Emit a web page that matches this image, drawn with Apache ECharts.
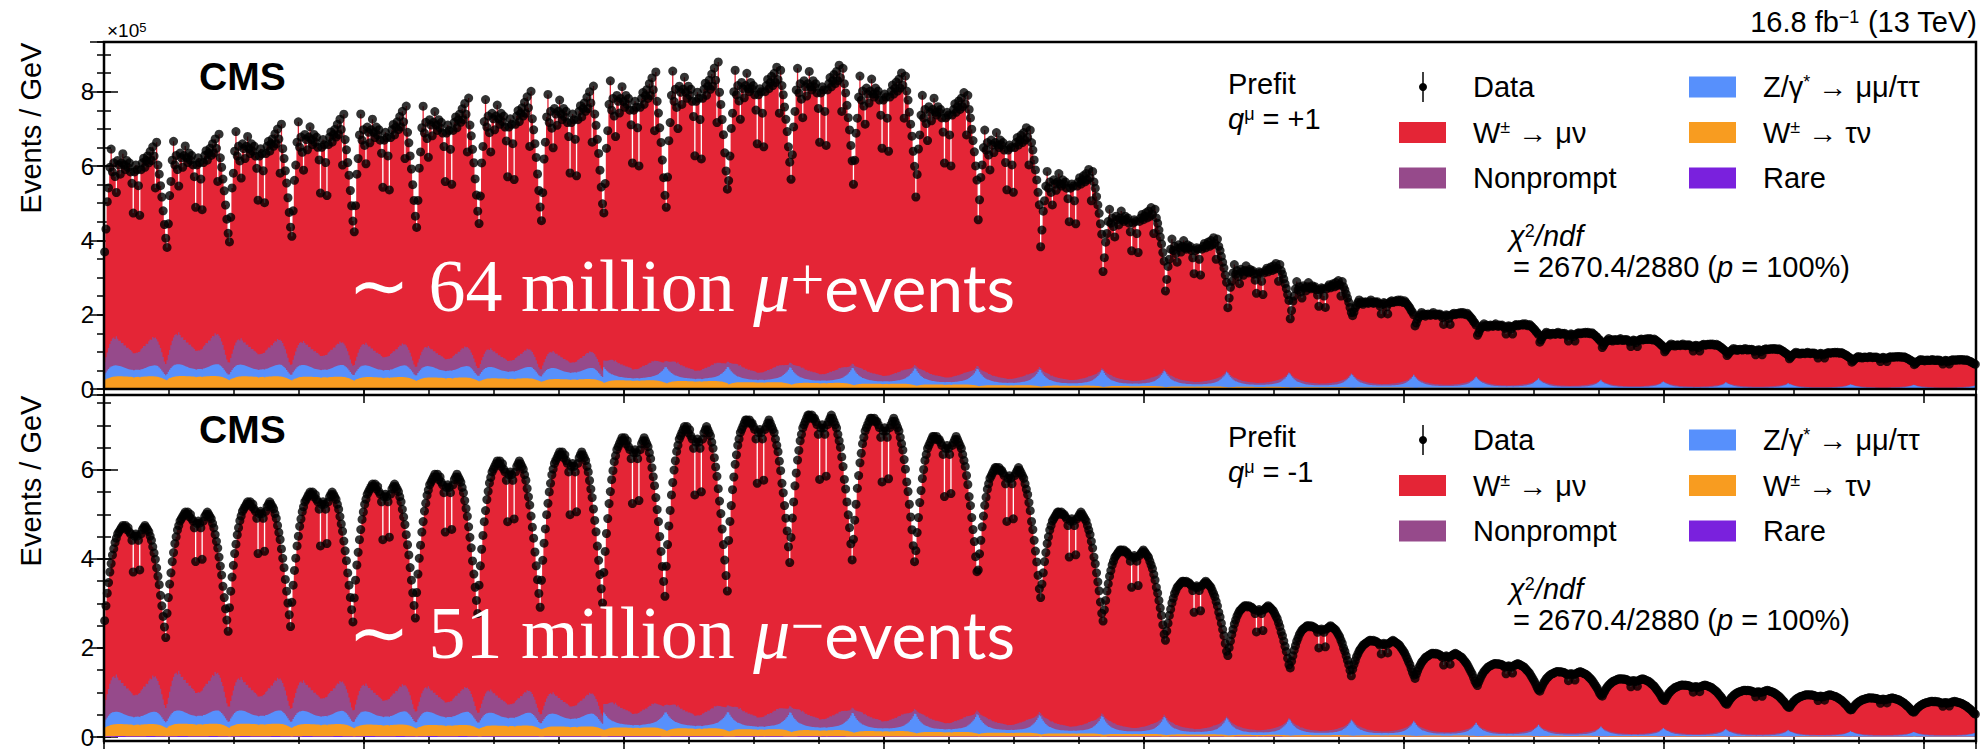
<!DOCTYPE html>
<html>
<head>
<meta charset="utf-8">
<script src="https://cdn.jsdelivr.net/npm/echarts@6/dist/echarts.min.js"></script>
<style>
  html, body { margin: 0; padding: 0; background: #fff; }
  #chart { width: 1985px; height: 749px; }
</style>
</head>
<body>
<div id="chart"></div>
<script>
// Unrolled (pT, eta) template: 30 muon-pT groups, each holding 48 eta bins.
const PT_GROUPS = 30;
const ETA_BINS = 48;
const N_BINS = PT_GROUPS * ETA_BINS;

// Total prediction level of each pT group (x1e5 events/GeV), q = +1 and q = -1
const totalPlus = [6.15, 6.35, 6.6, 6.85, 7.05, 7.25, 7.42, 7.55, 7.9, 8.15,
                   8.25, 8.3, 8.1, 7.6, 6.7, 5.63, 4.65, 3.88, 3.22, 2.78,
                   2.35, 2.02, 1.72, 1.5, 1.33, 1.19, 1.07, 0.97, 0.86, 0.78];
const totalMinus = [4.75, 5.05, 5.28, 5.5, 5.68, 5.9, 6.2, 6.4, 6.72, 6.97,
                    7.12, 7.23, 7.16, 6.75, 6.05, 5.05, 4.2, 3.5, 2.95, 2.5,
                    2.17, 1.88, 1.65, 1.47, 1.31, 1.17, 1.05, 0.95, 0.88, 0.8];

// Which eta profile each pT group uses (0 = low pT, 1 = mid pT, 2 = high pT)
const ptBand = [0,0,0,0,0,0,0,0,0,0, 1,1,1,1,1,1,1,1,1,1, 2,2,2,2,2,2,2,2,2,2];

// Eta profiles inside one pT group, q = +1
const etaPlusLow = [0.6,0.7,0.82,0.88,0.97,1.05,0.95,0.99,0.93,0.86,
  1.0,0.98,0.94,0.99,1.03,0.98,0.96,1.0,0.97,0.99,
  0.95,0.9,0.77,0.95,0.98,0.96,0.89,0.76,0.96,0.99,
  1.01,0.97,1.0,1.02,0.99,1.04,1.0,1.06,1.02,0.88,
  1.08,0.98,0.94,0.89,0.84,0.78,0.72,0.66];
const etaPlusMid = [0.68,0.76,0.85,0.9,0.97,1.04,0.96,0.99,0.94,0.88,
  1.0,0.98,0.95,0.99,1.03,0.98,0.97,1.0,0.98,0.99,
  0.96,0.91,0.8,0.96,0.98,0.97,0.9,0.79,0.97,0.99,
  1.01,0.98,1.0,1.02,0.99,1.03,1.0,1.05,1.01,0.9,
  1.04,0.99,0.96,0.92,0.88,0.84,0.79,0.74];
const etaPlusHigh = [0.84,0.88,0.93,0.96,0.99,1.02,0.98,1.0,0.97,0.99,
  1.0,0.99,0.98,1.0,1.02,0.99,0.98,1.0,0.99,1.0,
  0.98,0.95,0.86,0.97,0.99,0.98,0.94,0.86,0.98,1.0,
  1.01,0.99,1.0,1.01,1.0,1.02,1.0,1.02,1.0,0.99,
  1.01,0.99,0.97,0.95,0.93,0.9,0.88,0.85];

// Eta profiles inside one pT group, q = -1
const etaMinusLow = [0.55,0.62,0.68,0.73,0.78,0.82,0.86,0.89,0.92,0.94,0.96,0.97,
  0.98,0.99,1.0,0.99,1.0,0.98,0.99,0.97,0.96,0.93,
  0.78,0.95,0.96,0.95,0.93,0.79,
  0.96,0.98,0.99,1.0,0.99,0.98,0.97,0.95,
  0.93,0.9,0.87,0.84,0.8,0.76,0.72,0.67,0.62,0.57,0.52,0.47];
const etaMinusMid = [0.62,0.68,0.73,0.78,0.82,0.86,0.89,0.92,0.94,0.96,0.97,0.98,
  0.99,1.0,1.0,0.99,1.0,0.99,0.99,0.98,0.97,0.94,
  0.8,0.96,0.97,0.96,0.94,0.81,
  0.97,0.98,0.99,1.0,0.99,0.98,0.97,0.96,
  0.94,0.92,0.9,0.87,0.84,0.8,0.77,0.73,0.69,0.65,0.6,0.55];
const etaMinusHigh = [0.7,0.75,0.79,0.83,0.86,0.89,0.91,0.93,0.95,0.96,0.97,0.98,
  0.99,1.0,1.0,0.99,1.0,0.99,0.99,0.98,0.97,0.95,
  0.86,0.96,0.97,0.96,0.95,0.87,
  0.97,0.98,0.99,1.0,0.99,0.98,0.97,0.96,
  0.95,0.93,0.91,0.89,0.87,0.84,0.81,0.78,0.75,0.71,0.67,0.64];

// Background levels per pT group (x1e5 events/GeV)
const nonpromptPlus = [0.75,0.82,0.68,0.62,0.58,0.52,0.48,0.44,0.4,0.36,0.32,0.28,0.24,0.2,0.17,
                       0.14,0.12,0.1,0.08,0.07,0.06,0.05,0.04,0.04,0.03,0.03,0.03,0.02,0.02,0.02];
const nonpromptMinus = [0.8,0.85,0.72,0.66,0.6,0.55,0.5,0.46,0.42,0.38,0.34,0.3,0.26,0.22,0.18,
                        0.15,0.12,0.1,0.08,0.07,0.06,0.05,0.04,0.04,0.03,0.03,0.03,0.02,0.02,0.02];
const zPlus = [0.3,0.32,0.32,0.32,0.32,0.31,0.31,0.3,0.42,0.44,0.45,0.45,0.45,0.45,0.45,
               0.44,0.43,0.4,0.38,0.36,0.34,0.3,0.26,0.22,0.18,0.16,0.14,0.12,0.1,0.09];
const zMinus = [0.28,0.3,0.3,0.3,0.3,0.3,0.29,0.29,0.4,0.42,0.43,0.43,0.43,0.43,0.42,
                0.41,0.4,0.38,0.36,0.34,0.32,0.29,0.25,0.21,0.18,0.16,0.14,0.12,0.1,0.09];
const tauPlus = [0.32,0.33,0.32,0.31,0.3,0.29,0.27,0.25,0.22,0.2,0.17,0.15,0.13,0.11,0.09,
                 0.08,0.07,0.06,0.05,0.04,0.035,0.03,0.025,0.02,0.02,0.015,0.015,0.01,0.01,0.01];
const tauMinus = [0.27,0.28,0.28,0.27,0.26,0.25,0.24,0.22,0.2,0.18,0.16,0.14,0.12,0.1,0.085,
                  0.07,0.06,0.05,0.04,0.035,0.03,0.025,0.02,0.02,0.015,0.015,0.01,0.01,0.01,0.01];
const rareLevel = [0.02,0.02,0.02,0.02,0.02,0.02,0.018,0.018,0.016,0.016,0.015,0.015,0.014,0.013,0.012,
                   0.011,0.01,0.01,0.009,0.008,0.008,0.007,0.007,0.006,0.006,0.005,0.005,0.005,0.004,0.004];

// Background eta profiles
const zBand = [0,0,0,0,0,0,0,0, 1,1,1,1,1,1,1,1,1,1,1,1,1,1,1,1,1,1,1,1,1,1];
const etaZLow = [0.5,0.6,0.7,0.8,0.88,0.94,0.98,1,1,0.98,0.96,0.94,
  0.9,0.86,0.82,0.78,0.74,0.7,0.68,0.66,0.65,0.64,0.64,0.64,
  0.64,0.64,0.65,0.66,0.68,0.7,0.74,0.78,0.82,0.86,0.9,0.94,
  0.96,0.98,1,1,0.98,0.94,0.88,0.8,0.7,0.6,0.5,0.45];
const etaZHigh = [1,0.85,0.72,0.62,0.53,0.46,0.4,0.35,0.31,0.28,0.25,0.23,
  0.21,0.2,0.19,0.18,0.17,0.17,0.16,0.16,0.16,0.16,0.16,0.16,
  0.16,0.16,0.16,0.16,0.16,0.16,0.17,0.17,0.18,0.19,0.2,0.21,
  0.23,0.25,0.28,0.31,0.35,0.4,0.46,0.53,0.62,0.72,0.85,1];
const etaNonprompt = [0.45,0.55,0.65,0.75,0.85,0.92,0.98,1,0.95,1.05,0.97,0.9,
  0.93,0.85,0.88,0.8,0.83,0.76,0.78,0.72,0.7,0.66,0.62,0.6,
  0.62,0.6,0.64,0.68,0.72,0.75,0.8,0.78,0.85,0.82,0.9,0.95,
  0.92,1.02,0.97,1.0,0.95,0.9,0.82,0.75,0.65,0.55,0.45,0.4];
const etaTau = [0.7,0.78,0.84,0.88,0.92,0.95,0.97,0.98,0.99,1,1,1,
  1,1,0.99,0.99,0.98,0.98,0.97,0.97,0.96,0.95,0.9,0.95,
  0.95,0.96,0.95,0.9,0.96,0.97,0.98,0.98,0.99,1,1,1,
  1,1,0.99,0.98,0.97,0.95,0.92,0.89,0.85,0.8,0.75,0.7];

const COLORS = { w: '#e42536', nonprompt: '#964a8b', z: '#5790fc', tau: '#f89c20', rare: '#7a21dd' };

// Fill an unrolled histogram: group level times the eta profile of that group
function unroll(levels, profileOf) {
  const out = [];
  for (let g = 0; g < PT_GROUPS; g++) {
    const prof = profileOf(g);
    for (let e = 0; e < ETA_BINS; e++) out.push(levels[g] * prof[e]);
  }
  return out;
}

function panelHistograms(charge) {
  const plus = charge > 0;
  const etaBands = plus ? [etaPlusLow, etaPlusMid, etaPlusHigh] : [etaMinusLow, etaMinusMid, etaMinusHigh];
  const total = unroll(plus ? totalPlus : totalMinus, g => etaBands[ptBand[g]]);
  const rare = unroll(rareLevel, () => etaTau);
  const tau = unroll(plus ? tauPlus : tauMinus, () => etaTau);
  const z = unroll(plus ? zPlus : zMinus, g => (zBand[g] ? etaZHigh : etaZLow));
  const np = unroll(plus ? nonpromptPlus : nonpromptMinus, () => etaNonprompt);
  return { total, rare, tau, z, np };
}

// Histogram outline: each bin contributes its left and right edge at the bin content
function histPoints(vals) {
  const pts = [];
  vals.forEach((v, i) => { const y = +v.toFixed(4); pts.push([i, y], [i + 1, y]); });
  return pts;
}
const add = (a, b) => a.map((v, i) => v + b[i]);

const grids = [
  { left: 104, top: 42, width: 1872, height: 347 },
  { left: 104, top: 395, width: 1872, height: 346 }
];
const yMax = [9.34, 7.68];

const xAxis = [], yAxis = [], series = [];
const tickStyle = { color: '#000', width: 1.5 };

grids.forEach((gr, p) => {
  const xb = { type: 'value', gridIndex: p, min: 0, max: N_BINS, axisLine: { show: false },
               axisLabel: { show: false }, splitLine: { show: false } };
  xAxis.push(
    { ...xb, position: 'bottom', interval: 200, axisTick: { inside: true, length: 14, lineStyle: tickStyle } },
    { ...xb, position: 'bottom', interval: 50, axisTick: { inside: true, length: 7, lineStyle: tickStyle } },
    { ...xb, position: 'top', interval: 200, axisTick: { inside: true, length: 14, lineStyle: tickStyle } },
    { ...xb, position: 'top', interval: 50, axisTick: { inside: true, length: 7, lineStyle: tickStyle } }
  );
  const yb = { type: 'value', gridIndex: p, min: 0, max: yMax[p], axisLine: { show: false },
               splitLine: { show: false }, axisLabel: { show: false } };
  yAxis.push(
    { ...yb, position: 'left', interval: 2,
      axisTick: { inside: true, length: 14, lineStyle: tickStyle },
      axisLabel: { show: true, showMaxLabel: false, color: '#000', fontSize: 24,
                   fontFamily: 'Liberation Sans', margin: 10 } },
    { ...yb, position: 'left', interval: 0.5, axisTick: { inside: true, length: 7, lineStyle: tickStyle } },
    { ...yb, position: 'right', interval: 2, axisTick: { inside: true, length: 14, lineStyle: tickStyle } },
    { ...yb, position: 'right', interval: 0.5, axisTick: { inside: true, length: 7, lineStyle: tickStyle } }
  );

  // stacked contributions, drawn as cumulative sums from the top of the stack down
  const h = panelHistograms(p === 0 ? 1 : -1);
  const upToTau = add(h.rare, h.tau);
  const upToZ = add(upToTau, h.z);
  const upToNp = add(upToZ, h.np);
  const layers = [
    ['W\u00b1 \u2192 \u03bc\u03bd', h.total, COLORS.w],
    ['Nonprompt', upToNp, COLORS.nonprompt],
    ['Z/\u03b3* \u2192 \u03bc\u03bc/\u03c4\u03c4', upToZ, COLORS.z],
    ['W\u00b1 \u2192 \u03c4\u03bd', upToTau, COLORS.tau],
    ['Rare', h.rare, COLORS.rare]
  ];
  layers.forEach(([name, vals, color]) => {
    series.push({
      name, type: 'line', xAxisIndex: p * 4, yAxisIndex: p * 4,
      symbol: 'none', data: histPoints(vals), silent: true, z: 2,
      lineStyle: { width: 0, color }, itemStyle: { color },
      areaStyle: { color, opacity: 1, origin: 'start' }
    });
  });
  series.push({
    name: 'Data', type: 'scatter', xAxisIndex: p * 4, yAxisIndex: p * 4,
    symbol: 'circle', symbolSize: 9, itemStyle: { color: '#000' }, silent: true, z: 5,
    data: h.total.map((v, i) => [i + 0.5, +v.toFixed(4)])
  });
});

// ---- text, legend and frames ----
const SANS = 'Liberation Sans';
const SERIF = 'Liberation Serif';
const graphic = [];
function txt(x, y, text, opts) {
  graphic.push({ type: 'text', x, y, z: 100, silent: true,
    style: Object.assign({ text, fill: '#000', font: '29px ' + SANS,
                           align: 'left', verticalAlign: 'middle' }, opts || {}) });
}
const supRich = {
  n: { fontSize: 29, fontFamily: SANS, fill: '#000' },
  i: { fontSize: 29, fontFamily: SANS, fontStyle: 'italic', fill: '#000' },
  s: { fontSize: 18, fontFamily: SANS, fill: '#000', verticalAlign: 'top', lineHeight: 16 }
};

txt(1977, 22, '{n|16.8 fb}{s|\u22121}{n| (13 TeV)}', { align: 'right', rich: supRich });
txt(107, 30, '{n|\u00d710}{s|5}', { rich: {
  n: { fontSize: 19, fontFamily: SANS, fill: '#000' },
  s: { fontSize: 13, fontFamily: SANS, fill: '#000', verticalAlign: 'top', lineHeight: 10 } } });

const legendRows = [
  { col: 0, row: 0, label: '{n|Data}', data: true },
  { col: 0, row: 1, label: '{n|W}{s|\u00b1}{n| \u2192 \u03bc\u03bd}', color: COLORS.w },
  { col: 0, row: 2, label: '{n|Nonprompt}', color: COLORS.nonprompt },
  { col: 1, row: 0, label: '{n|Z/\u03b3}{s|*}{n| \u2192 \u03bc\u03bc/\u03c4\u03c4}', color: COLORS.z },
  { col: 1, row: 1, label: '{n|W}{s|\u00b1}{n| \u2192 \u03c4\u03bd}', color: COLORS.tau },
  { col: 1, row: 2, label: '{n|Rare}', color: COLORS.rare }
];

['+1', '-1'].forEach((q, p) => {
  const dy = p * 353;
  txt(199, 76 + dy, 'CMS', { font: 'bold 39px ' + SANS });
  txt(1228, 84 + dy, 'Prefit');
  txt(1228, 119 + dy, '{i|q}{s|\u03bc}{n| = ' + q + '}', { rich: supRich });
  legendRows.forEach(r => {
    const cy = 87 + r.row * 45.5 + dy;
    const bx = r.col ? 1689 : 1399;
    if (r.data) {
      graphic.push({ type: 'line', z: 100, silent: true,
        shape: { x1: 1423, y1: cy - 15, x2: 1423, y2: cy + 15 }, style: { stroke: '#000', lineWidth: 1.5 } });
      graphic.push({ type: 'circle', z: 100, silent: true,
        shape: { cx: 1423, cy, r: 4 }, style: { fill: '#000' } });
    } else {
      graphic.push({ type: 'rect', z: 100, silent: true,
        shape: { x: bx, y: cy - 10.5, width: 47, height: 21 }, style: { fill: r.color } });
    }
    txt(bx + 74, cy, r.label, { rich: supRich });
  });
  txt(1509, 236 + dy, '{i|\u03c7}{s|2}{i|/ndf}', { rich: supRich });
  txt(1513, 267 + dy, '{n|= 2670.4/2880 (}{i|p}{n| = 100%)}', { rich: supRich });

  // y-axis title
  graphic.push({ type: 'text', x: 31, y: 128 + dy, rotation: Math.PI / 2, z: 100, silent: true,
    style: { text: 'Events / GeV', fill: '#000', font: '29px ' + SANS, align: 'center', verticalAlign: 'middle' } });

  // frame
  const gr = grids[p];
  graphic.push({ type: 'rect', z: 90, silent: true,
    shape: { x: gr.left, y: gr.top, width: gr.width, height: gr.height },
    style: { fill: 'none', stroke: '#000', lineWidth: 2.5 } });
});

// event-count annotations
[['64', '+', 286], ['51', '\u2212', 633]].forEach(([n, sign, y]) => {
  txt(348, y, '{a|\u223c ' + n + ' million }{m|\u03bc}{s|' + sign + '}{e|events}', { rich: {
    a: { fontSize: 74, fontFamily: SERIF, fill: '#fff' },
    m: { fontSize: 74, fontFamily: SERIF, fontStyle: 'italic', fill: '#fff' },
    s: { fontSize: 60, fontFamily: SERIF, fill: '#fff', verticalAlign: 'top', lineHeight: 44 },
    e: { fontSize: 66, fontFamily: 'Lato', fill: '#fff' }
  } });
});

const chart = echarts.init(document.getElementById('chart'), null, { renderer: 'svg', width: 1985, height: 749 });
chart.setOption({
  animation: false,
  backgroundColor: '#fff',
  grid: grids.map(g => ({ ...g, show: false })),
  xAxis, yAxis, series, graphic
});
</script>
</body>
</html>
